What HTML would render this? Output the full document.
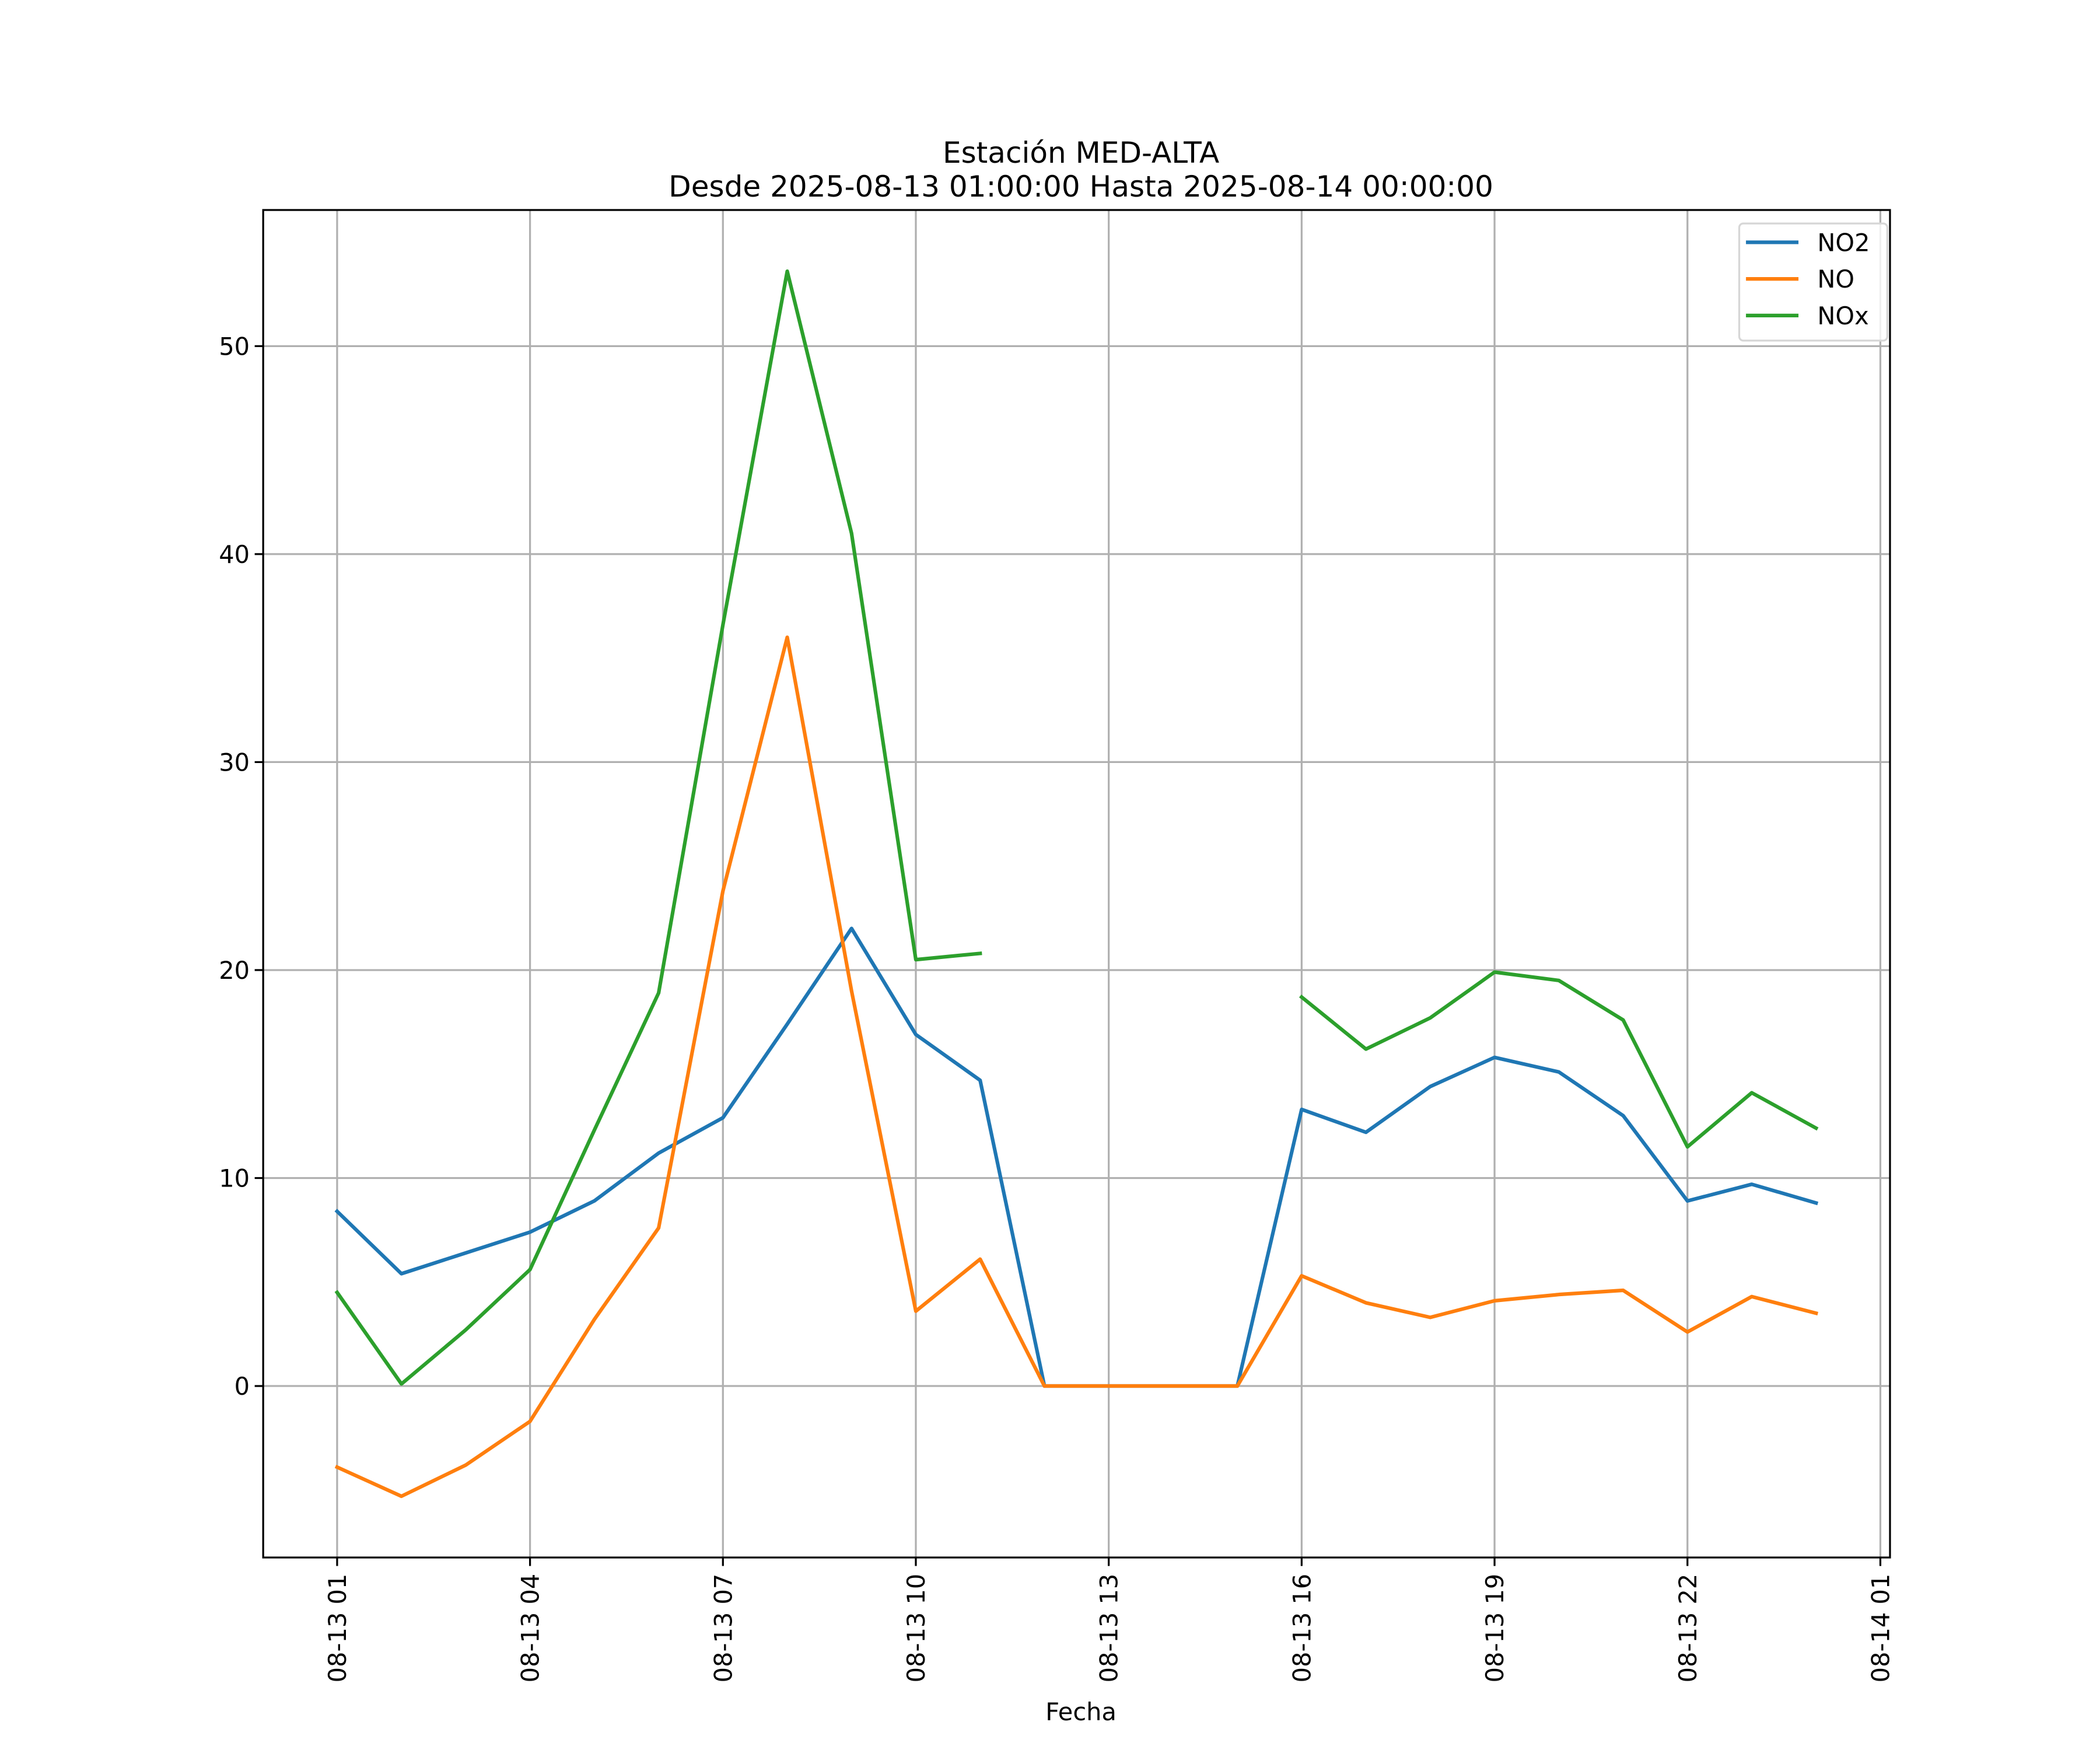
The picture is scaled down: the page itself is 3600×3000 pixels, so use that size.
<!DOCTYPE html>
<html><head><meta charset="utf-8">
<style>
html,body{margin:0;padding:0;background:#fff;}
svg{display:block;}
text{font-family:"DejaVu Sans","Liberation Sans",sans-serif;fill:#000;}
</style></head>
<body>
<svg id="chart" width="3600" height="3000" viewBox="0 0 1560 1300" xmlns="http://www.w3.org/2000/svg">
<rect x="0" y="0" width="1560" height="1300" fill="#fff"/>
<g id="grid"></g>
<g id="series"></g>
<rect x="195.5" y="156" width="1208.5" height="1001" fill="none" stroke="#000" stroke-width="1.4"/>
<g id="ticks"></g>
<text x="803" y="121" font-size="21.7" text-anchor="middle">Estación MED-ALTA</text>
<text x="803" y="146" font-size="21.7" text-anchor="middle">Desde 2025-08-13 01:00:00 Hasta 2025-08-14 00:00:00</text>
<text x="803" y="1278" font-size="18" text-anchor="middle">Fecha</text>
<g id="legend"></g>
</svg>
<script>
const hours = [1,2,3,4,5,6,7,8,9,10,11,12,13,14,15,16,17,18,19,20,21,22,23,24];
const no2 = [8.4,5.4,6.4,7.4,8.9,11.2,12.9,17.4,22.0,16.9,14.7,0,0,0,0,13.3,12.2,14.4,15.8,15.1,13.0,8.9,9.7,8.8];
const no = [-3.9,-5.3,-3.8,-1.7,3.2,7.6,23.8,36.0,19.0,3.6,6.1,0,0,0,0,5.3,4.0,3.3,4.1,4.4,4.6,2.6,4.3,3.5];
const nox = [4.5,0.1,2.7,5.6,12.3,18.9,36.6,53.6,41.0,20.5,20.8,null,null,null,null,18.7,16.2,17.7,19.9,19.5,17.6,11.5,14.1,12.4];
const seriesNames = ["NO2","NO","NOx"];
const xTickHours = [1,4,7,10,13,16,19,22,25];
const xTickLabels = ["08-13 01","08-13 04","08-13 07","08-13 10","08-13 13","08-13 16","08-13 19","08-13 22","08-14 01"];
const yTicks = [0,10,20,30,40,50];

const NS = "http://www.w3.org/2000/svg";
const L=195.5, R=1404, T=156, B=1157;
const xmin=1-1.15, xmax=24+1.15, ymin=-8.245, ymax=56.545;
const xs = h => L + (h - xmin) / (xmax - xmin) * (R - L);
const ys = v => B - (v - ymin) / (ymax - ymin) * (B - T);
function mk(tag, attrs, parent){const e=document.createElementNS(NS,tag);for(const k in attrs)e.setAttribute(k,attrs[k]);parent.appendChild(e);return e;}

const grid=document.getElementById('grid'), ticks=document.getElementById('ticks');
xTickHours.forEach((h,i)=>{
  const x=xs(h);
  const g=mk('line',{x1:x,x2:x,y1:T,y2:B,stroke:'#b0b0b0','stroke-width':1.4},grid);
  
  
  const t=mk('line',{x1:x,x2:x,y1:B,y2:B+6.3,stroke:'#000','stroke-width':1.4},ticks);
  
  
  const lb=mk('text',{x:0,y:0,'font-size':18,'text-anchor':'end',transform:`translate(${x+6.5},${B+12}) rotate(-90)`},ticks);
  lb.textContent=xTickLabels[i];
  
  
});
yTicks.forEach(v=>{
  const y=ys(v);
  const g=mk('line',{x1:L,x2:R,y1:y,y2:y,stroke:'#b0b0b0','stroke-width':1.4},grid);
  
  
  const t=mk('line',{x1:L-6.3,x2:L,y1:y,y2:y,stroke:'#000','stroke-width':1.4},ticks);
  
  
  const lb=mk('text',{x:L-10,y:y+6.5,'font-size':18,'text-anchor':'end'},ticks);
  lb.textContent=String(v);
  
  
});

const colors=['#1f77b4','#ff7f0e','#2ca02c'];
const data=[no2,no,nox];
const sg=document.getElementById('series');
data.forEach((arr,si)=>{
  let d='', pen=false;
  arr.forEach((v,i)=>{
    if(v===null){pen=false;return;}
    d+=(pen?'L':'M')+xs(hours[i]).toFixed(2)+' '+ys(v).toFixed(2)+' ';
    pen=true;
  });
  const p=mk('path',{d:d,fill:'none',stroke:colors[si],'stroke-width':2.7,'stroke-linejoin':'round','stroke-linecap':'square'},sg);
  
  
});

const lg=document.getElementById('legend');
const box=mk('rect',{x:1292,y:166,width:110,height:87,rx:3,fill:'#fff','fill-opacity':0.8,stroke:'#d6d6d6','stroke-width':1.4},lg);


seriesNames.forEach((n,i)=>{
  const y=180+i*27.2;
  const ln=mk('line',{x1:1297,x2:1336,y1:y,y2:y,stroke:colors[i],'stroke-width':2.7},lg);
  
  
  const t=mk('text',{x:1350,y:y+6.5,'font-size':18},lg);
  t.textContent=n;
  
  
});
</script>
</body></html>
